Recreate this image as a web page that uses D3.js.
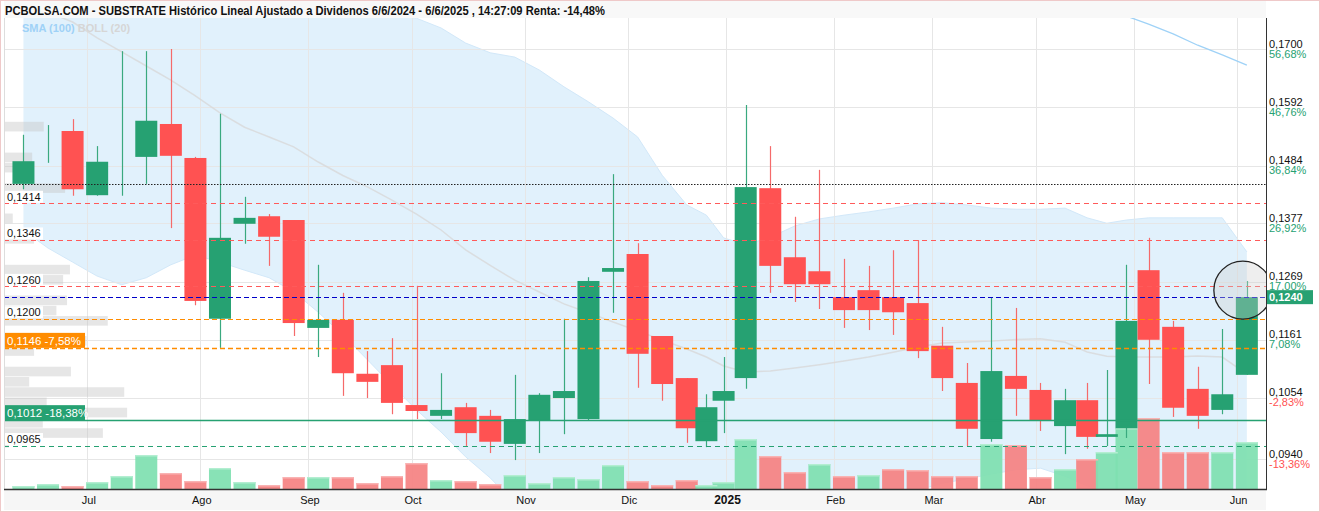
<!DOCTYPE html>
<html><head><meta charset="utf-8">
<script src="https://cdn.jsdelivr.net/npm/d3@7"></script>
<style>
body{margin:0;background:#fff;}
svg{display:block;font-family:"Liberation Sans",Arial,sans-serif;}
</style>
</head><body>
<svg id="c" width="1320" height="512"></svg>
<script>
// ---------------- DATA ----------------
const weeks = ["2024-06-10","2024-06-17","2024-06-24","2024-07-01","2024-07-08","2024-07-15","2024-07-22","2024-07-29",
"2024-08-05","2024-08-12","2024-08-19","2024-08-26","2024-09-02","2024-09-09","2024-09-16","2024-09-23","2024-09-30",
"2024-10-07","2024-10-14","2024-10-21","2024-10-28","2024-11-04","2024-11-11","2024-11-18","2024-11-25","2024-12-02",
"2024-12-09","2024-12-16","2024-12-23","2024-12-30","2025-01-06","2025-01-13","2025-01-20","2025-01-27","2025-02-03",
"2025-02-10","2025-02-17","2025-02-24","2025-03-03","2025-03-10","2025-03-17","2025-03-24","2025-03-31","2025-04-07",
"2025-04-14","2025-04-21","2025-04-28","2025-05-05","2025-05-12","2025-05-19","2025-05-26","2025-06-02"];

const openP = [0.1450,0.1513,0.1548,0.1429,0.1500,0.1500,0.1561,0.1498,0.1200,0.1376,0.1390,0.1383,0.1183,0.1198,0.1098,0.1114,0.1040,0.1020,0.1036,0.1020,0.0968,0.1012,0.1053,0.1014,0.1287,0.1320,0.1168,0.1090,0.0973,0.1048,0.1090,0.1442,0.1314,0.1288,0.1240,0.1253,0.1240,0.1229,0.1150,0.1081,0.0977,0.1094,0.1068,0.1001,0.1049,0.0981,0.0997,0.1290,0.1185,0.1070,0.1031,0.1096];
const highP = [0.1541,0.1559,0.1570,0.1520,0.1696,0.1696,0.1700,0.1500,0.1580,0.1426,0.1394,0.1383,0.1300,0.1248,0.1140,0.1164,0.1261,0.1099,0.1044,0.1031,0.1096,0.1062,0.1200,0.1277,0.1468,0.1340,0.1168,0.1090,0.1060,0.1129,0.1596,0.1520,0.1389,0.1476,0.1311,0.1298,0.1327,0.1346,0.1185,0.1118,0.1240,0.1220,0.1081,0.1070,0.1081,0.1105,0.1300,0.1350,0.1196,0.1111,0.1181,0.1270];
const lowP  = [0.1440,0.1489,0.1428,0.1428,0.1428,0.1450,0.1368,0.1225,0.1146,0.1339,0.1298,0.1168,0.1129,0.1057,0.1053,0.1023,0.1014,0.1014,0.0964,0.0951,0.0938,0.0951,0.0986,0.1012,0.1211,0.1072,0.1048,0.0970,0.0962,0.0988,0.1070,0.1248,0.1231,0.1218,0.1183,0.1179,0.1170,0.1127,0.1066,0.0964,0.0972,0.1020,0.0992,0.0949,0.0959,0.0964,0.0979,0.1079,0.1018,0.0996,0.1023,0.1096];
const closeP= [0.1492,0.1513,0.1440,0.1491,0.1500,0.1567,0.1502,0.1233,0.1350,0.1387,0.1352,0.1192,0.1198,0.1099,0.1083,0.1044,0.1029,0.1031,0.0988,0.0972,0.1014,0.1059,0.1066,0.1270,0.1294,0.1135,0.1079,0.0997,0.1036,0.1066,0.1444,0.1298,0.1264,0.1264,0.1216,0.1216,0.1212,0.1140,0.1090,0.0996,0.1103,0.1070,0.1012,0.1049,0.0981,0.0986,0.1196,0.1161,0.1035,0.1020,0.1060,0.1240];
// weekly volume (thousands of shares)
const volume = [30,50,30,70,130,340,160,80,210,70,40,120,120,120,60,130,260,90,80,50,140,60,120,100,240,80,40,90,40,70,500,330,170,250,130,140,200,190,130,130,450,440,120,200,300,370,610,710,370,370,370,470];
// Bollinger (20) bands
const bollUpper = [0.2199,0.2206,0.2195,0.2162,0.2126,0.2061,0.1985,0.1908,0.1858,0.1820,0.1798,0.1787,0.1769,0.1761,0.1765,0.1763,0.1757,0.1739,0.1711,0.1693,0.1685,0.1661,0.1630,0.1602,0.1572,0.1537,0.1466,0.1411,0.1392,0.1350,0.1337,0.1351,0.1372,0.1385,0.1392,0.1398,0.1405,0.1413,0.1415,0.1411,0.1405,0.1403,0.1403,0.1405,0.1387,0.1377,0.1383,0.1387,0.1387,0.1387,0.1387,0.1324];
const bollLower = [0.1364,0.1331,0.1305,0.1279,0.1263,0.1276,0.1300,0.1318,0.1305,0.1290,0.1276,0.1250,0.1212,0.1170,0.1124,0.1077,0.1031,0.0990,0.0944,0.0905,0.0858,0.0838,0.0825,0.0820,0.0816,0.0818,0.0855,0.0877,0.0866,0.0875,0.0866,0.0855,0.0845,0.0844,0.0851,0.0860,0.0871,0.0882,0.0895,0.0903,0.0912,0.0920,0.0923,0.0908,0.0890,0.0884,0.0875,0.0871,0.0871,0.0875,0.0871,0.0871];
// SMA (100), only the last weeks fall inside the window
const sma100 = [null,null,null,null,null,null,null,null,null,null,null,null,null,null,null,null,null,null,null,null,null,null,null,null,null,null,null,null,null,null,null,null,null,null,null,null,null,null,null,null,null,null,null,0.1809,0.1791,0.1778,0.1761,0.1746,0.1728,0.1707,0.1689,0.1670];
// volume at price profile
const profileTop = [0.1565,0.1508,0.1489,0.1451,0.1395,0.1357,0.1300,0.1281,0.1243,0.1224,0.1205,0.1168,0.1149,0.1111,0.1092,0.1073,0.1054,0.1035,0.1016,0.0997,0.0979];
const profileVol = [40,28,14,62,8,30,67,60,64,53,106,84,30,68,25,123,43,126,39,101,4];
const profileStep = 0.00189;

const holidays = ["2024-12-25","2024-12-26","2025-01-01","2025-04-18","2025-04-21","2025-05-01"];
const monthKeys = ["2024-07","2024-08","2024-09","2024-10","2024-11","2024-12","2025-01","2025-02","2025-03","2025-04","2025-05","2025-06"];
const monthLabels = ["Jul","Ago","Sep","Oct","Nov","Dic","2025","Feb","Mar","Abr","May","Jun"];

const priceTicks = [0.1700,0.1592,0.1484,0.1377,0.1269,0.1161,0.1054,0.0940];
const pctTicks = ["56,68%","46,76%","36,84%","26,92%","17,00%","7,08%","-2,83%","-13,36%"];

const startPrice = 0.1450;
const lastPrice = 0.1240;
const resistLevels = [0.1414,0.1346,0.1260];
const midLevel = 0.1200;
const stopLevel = 0.1146, stopPct = "-7,58%";
const supportLevel = 0.1012, supportPct = "-18,38%";
const lowLevel = 0.0965;

const titleText = "PCBOLSA.COM - SUBSTRATE Histórico Lineal Ajustado a Dividenos 6/6/2024 - 6/6/2025 , 14:27:09 Renta: -14,48%";

// ---------------- SETUP ----------------
const loc = d3.formatLocale({decimal:",", thousands:".", grouping:[3], currency:["","€"]});
const f4 = loc.format(".4f");
const fmt = d3.utcFormat("%Y-%m-%d");
const days = d3.utcDay.range(new Date("2024-06-06"), new Date("2025-06-07"))
  .filter(d => d.getUTCDay() % 6 !== 0 && !holidays.includes(fmt(d)));

const candles = weeks.map((w, i) => {
  const mon = new Date(w);
  const end = d3.utcDay.offset(mon, 5);
  const idx = [];
  days.forEach((d, j) => { if (d >= mon && d < end) idx.push(j); });
  return {i, xi: d3.mean(idx), o: openP[i], h: highP[i], l: lowP[i], c: closeP[i],
          v: volume[i], up: bollUpper[i], lo: bollLower[i], sma: sma100[i]};
});
const monthTicks = monthKeys.map((k, i) => ({label: monthLabels[i],
  xi: days.findIndex(d => fmt(d).startsWith(k))}));

const P = {l: 4, r: 1266, t: 18, b: 489};
const x = d3.scaleLinear().domain([0, 257]).range([3.8, 1266.5]);
const y = d3.scaleLinear().domain([0.0940, 0.1700]).range([459, 49]);
const yV = d3.scaleLinear().domain([0, 800]).range([P.b, P.b - 80]);
const xProf = d3.scaleLinear().domain([0, 130]).range([P.l, P.l + 126]);

const GREEN = "#26a172", RED = "#ff5252";
const svg = d3.select("#c");

svg.append("rect").attr("width", 1320).attr("height", 512).attr("fill", "#fff");
svg.append("rect").attr("x", P.l).attr("y", 0).attr("width", P.r - P.l).attr("height", P.t).attr("fill", "#f8f8f8");
svg.append("rect").attr("x", P.l).attr("y", P.b).attr("width", P.r - P.l).attr("height", 512 - P.b - 2).attr("fill", "#f6f6f6");

svg.append("defs").append("clipPath").attr("id", "clip")
  .append("rect").attr("x", P.l).attr("y", P.t).attr("width", P.r - P.l).attr("height", P.b - P.t);
const g = svg.append("g").attr("clip-path", "url(#clip)");

// Bollinger band
g.append("path").datum(candles)
  .attr("d", d3.area().x(d => x(d.xi)).y0(d => y(d.lo)).y1(d => y(d.up)))
  .attr("fill", "#e1f1fc");
["up", "lo"].forEach(k => g.append("path").datum(candles)
  .attr("d", d3.line().x(d => x(d.xi)).y(d => y(d[k])))
  .attr("fill", "none").attr("stroke", "#d2e8f9").attr("stroke-width", 1));

// grid
g.selectAll(".hg").data(priceTicks).join("line")
  .attr("x1", P.l).attr("x2", P.r).attr("y1", d => Math.round(y(d)) + 0.5).attr("y2", d => Math.round(y(d)) + 0.5)
  .attr("stroke", "#e6e6e6");
g.selectAll(".vg").data(monthTicks).join("line")
  .attr("x1", d => Math.round(x(d.xi)) + 0.5).attr("x2", d => Math.round(x(d.xi)) + 0.5)
  .attr("y1", P.t).attr("y2", P.b).attr("stroke", "#e6e6e6");

// middle band
g.append("path").datum(candles)
  .attr("d", d3.line().x(d => x(d.xi)).y(d => y((d.up + d.lo) / 2)))
  .attr("fill", "none").attr("stroke", "#d8d8d8").attr("stroke-width", 1.5).attr("opacity", 0.8);
// SMA 100
g.append("path").datum(candles.filter(d => d.sma != null))
  .attr("d", d3.line().x(d => x(d.xi)).y(d => y(d.sma)))
  .attr("fill", "none").attr("stroke", "#9fd2f7").attr("stroke-width", 1.3);

// volume profile
g.selectAll(".pf").data(profileTop).join("rect")
  .attr("x", P.l + 1).attr("y", d => y(d)).attr("height", d => y(d - profileStep) - y(d) - 0.6)
  .attr("width", (d, i) => xProf(profileVol[i]) - P.l)
  .attr("fill", "rgb(200,200,200)").attr("opacity", 0.45);

// volume bars
const up = (d, i) => i === 0 || d.c >= candles[i - 1].c;
g.selectAll(".vb").data(candles).join("rect")
  .attr("x", d => x(d.xi) - 11).attr("width", 22)
  .attr("y", d => yV(d.v)).attr("height", d => P.b - yV(d.v))
  .attr("fill", (d, i) => up(d, i) ? "#7fe0b0" : "#f58282").attr("opacity", 0.93);
g.selectAll(".vt").data(candles).join("rect")
  .attr("x", d => x(d.xi) - 11).attr("width", 22)
  .attr("y", d => yV(d.v)).attr("height", 1.5)
  .attr("fill", (d, i) => up(d, i) ? "#b3eed1" : "#f9b3b3");

// candles
const cg = g.selectAll(".cd").data(candles).join("g");
cg.append("line")
  .attr("x1", d => Math.round(x(d.xi)) + 0.5).attr("x2", d => Math.round(x(d.xi)) + 0.5)
  .attr("y1", d => y(d.h)).attr("y2", d => y(d.l))
  .attr("stroke", d => d.c >= d.o ? "#3aa97f" : "#f56a6a").attr("stroke-width", 1.2);
cg.append("rect")
  .attr("x", d => x(d.xi) - 11).attr("width", 22)
  .attr("y", d => y(Math.max(d.o, d.c))).attr("height", d => Math.abs(y(d.o) - y(d.c)))
  .attr("fill", d => d.c >= d.o ? GREEN : RED);

// level lines
const hline = (v, color, dash, w) => g.append("line")
  .attr("x1", P.l).attr("x2", P.r).attr("y1", Math.round(y(v)) + 0.5).attr("y2", Math.round(y(v)) + 0.5)
  .attr("stroke", color).attr("stroke-dasharray", dash).attr("stroke-width", w || 1);
hline(startPrice, "#222", "1.5,1.5");
resistLevels.forEach(v => hline(v, "#ff5a5a", "5,4"));
hline(lastPrice, "#0000c8", "5,3");
hline(midLevel, "#ff8c00", "5,3");
hline(stopLevel, "#ff8c00", "5,3", 1.3);
hline(supportLevel, GREEN, null, 1.3);
hline(lowLevel, GREEN, "5,4");

// highlight circle around last candle
const last = candles[candles.length - 1];
g.append("circle").attr("cx", x(last.xi) - 4).attr("cy", y(last.c) - 7).attr("r", 29)
  .attr("fill", "rgba(205,205,205,0.35)").attr("stroke", "#222").attr("stroke-width", 1.3);

// axes lines
svg.append("line").attr("x1", P.l + 0.5).attr("x2", P.l + 0.5).attr("y1", P.t).attr("y2", P.b).attr("stroke", "#ddd");
svg.append("line").attr("x1", P.r + 0.5).attr("x2", P.r + 0.5).attr("y1", P.t).attr("y2", P.b + 1).attr("stroke", "#333");
svg.append("line").attr("x1", P.l).attr("x2", P.r + 1).attr("y1", P.b + 0.5).attr("y2", P.b + 0.5).attr("stroke", "#333").attr("stroke-width", 1.5);

// right axis labels
const ra = svg.append("g").attr("font-size", 11);
ra.selectAll(".pv").data(priceTicks).join("text")
  .attr("x", P.r + 3).attr("y", d => y(d) - 1.5).attr("fill", "#111").text(d => f4(d));
ra.selectAll(".pp").data(priceTicks).join("text")
  .attr("x", P.r + 3).attr("y", d => y(d) + 8.5)
  .attr("fill", (d, i) => pctTicks[i].startsWith("-") ? RED : GREEN).text((d, i) => pctTicks[i]);
ra.append("rect").attr("x", P.r + 1).attr("y", y(lastPrice) - 7).attr("width", 46).attr("height", 14).attr("fill", GREEN);
ra.append("text").attr("x", P.r + 3).attr("y", y(lastPrice) + 4).attr("fill", "#fff").attr("font-weight", "bold").text(f4(lastPrice));

// x axis labels
svg.selectAll(".xl").data(monthTicks).join("text")
  .attr("x", d => x(d.xi) + 1.5).attr("y", 504).attr("text-anchor", "middle")
  .attr("font-size", d => d.label === "2025" ? 12 : 11)
  .attr("font-weight", d => d.label === "2025" ? "bold" : "normal")
  .attr("fill", "#111").text(d => d.label);

// left level labels
const ll = svg.append("g").attr("font-size", 11);
[...resistLevels, midLevel, lowLevel].forEach(v => {
  ll.append("rect").attr("x", P.l + 1).attr("y", y(v) - 12.5).attr("width", 38).attr("height", 12).attr("fill", "#fff");
  ll.append("text").attr("x", P.l + 3).attr("y", y(v) - 2.5).attr("fill", "#111").text(f4(v));
});
[[stopLevel, stopPct, "#ff8c00"], [supportLevel, supportPct, GREEN]].forEach(([v, p, col]) => {
  ll.append("rect").attr("x", P.l + 1).attr("y", y(v) - 15).attr("width", 80).attr("height", 15).attr("fill", col);
  ll.append("text").attr("x", P.l + 3).attr("y", y(v) - 3).attr("fill", "#fff").attr("font-size", 11.5)
    .text(f4(v) + " " + p);
});

// title & legend
svg.append("text").attr("x", 5).attr("y", 15).attr("font-size", 12.5).attr("font-weight", "bold")
  .attr("fill", "#111").attr("textLength", 600).attr("lengthAdjust", "spacingAndGlyphs").text(titleText);
const lg = svg.append("text").attr("x", 22).attr("y", 32).attr("font-size", 11).attr("font-weight", "bold");
lg.append("tspan").attr("fill", "#9fd2f7").text("SMA (100) ");
lg.append("tspan").attr("fill", "#d6d6d6").text("BOLL (20)");

// outer border
svg.append("rect").attr("x", 0.5).attr("y", 0.5).attr("width", 1319).attr("height", 511)
  .attr("fill", "none").attr("stroke", "#efc9c9");
</script>
</body></html>
